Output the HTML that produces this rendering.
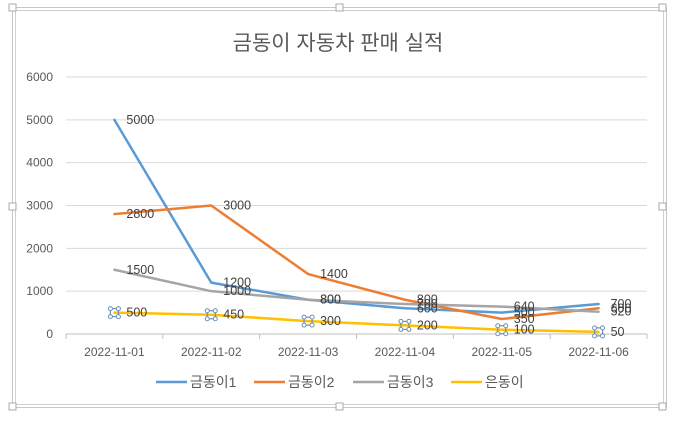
<!DOCTYPE html>
<html><head><meta charset="utf-8">
<style>
body{margin:0;background:#fff;}
svg{display:block;font-family:"Liberation Sans","Noto Sans CJK KR",sans-serif;}
</style></head>
<body>
<svg id="chart" width="675" height="426" viewBox="0 0 675 426">
<g>
<rect x="12.5" y="7.5" width="654" height="400" fill="none" stroke="#c8c8c8"/>
<rect x="15.5" y="10.5" width="648" height="394" fill="none" stroke="#d0d0d0"/>
<rect x="9" y="4" width="7" height="7" fill="#fff" stroke="#aaa"/>
<rect x="336" y="4" width="7" height="7" fill="#fff" stroke="#aaa"/>
<rect x="659" y="4" width="7" height="7" fill="#fff" stroke="#aaa"/>
<rect x="9" y="203" width="7" height="7" fill="#fff" stroke="#aaa"/>
<rect x="659" y="203" width="7" height="7" fill="#fff" stroke="#aaa"/>
<rect x="9" y="403" width="7" height="7" fill="#fff" stroke="#aaa"/>
<rect x="336" y="403" width="7" height="7" fill="#fff" stroke="#aaa"/>
<rect x="659" y="403" width="7" height="7" fill="#fff" stroke="#aaa"/>
</g>
<text x="338" y="50" text-anchor="middle" font-size="21" fill="#595959">금동이 자동차 판매 실적</text>
<g id="grid"></g><g id="axes"></g><g id="series"></g><g id="labels"></g>
<g id="legend"></g>
</svg>
<script>
const categories=["2022-11-01","2022-11-02","2022-11-03","2022-11-04","2022-11-05","2022-11-06"];
const yTicks=[0,1000,2000,3000,4000,5000,6000];
const seriesNames=["금동이1","금동이2","금동이3","은동이"];
const s1=[5000,1200,800,600,500,700];
const s2=[2800,3000,1400,800,350,600];
const s3=[1500,1000,800,700,640,520];
const s4=[500,450,300,200,100,50];
const colors=["#5b9bd5","#ed7d31","#a5a5a5","#ffc000"];
const NS="http://www.w3.org/2000/svg";
const x0=66,x1=647,y0=334,y1=77;
const bw=(x1-x0)/categories.length;
const X=i=>x0+bw*(i+0.5);
const Y=v=>y0-(v/6000)*(y0-y1);
function mk(t,a,p){const e=document.createElementNS(NS,t);for(const k in a)e.setAttribute(k,a[k]);p.appendChild(e);return e;}
const grid=document.getElementById('grid'),axes=document.getElementById('axes');
yTicks.forEach(v=>{
 const l=mk('line',{x1:x0,x2:x1,y1:Y(v),y2:Y(v),stroke:v===0?'#bfbfbf':'#d9d9d9','stroke-width':1},grid);
 
 
 const t=mk('text',{x:53,y:Y(v)+4,'text-anchor':'end','font-size':12,fill:'#595959'},axes);
 t.textContent=v;
 
 
});
categories.forEach((c,i)=>{
 const tk=mk('line',{x1:x0+bw*i,x2:x0+bw*i,y1:y0,y2:y0+5,stroke:'#bfbfbf'},axes);
 
 
 const t=mk('text',{x:X(i),y:356,'text-anchor':'middle','font-size':12,fill:'#595959'},axes);
 t.textContent=c;
 
 
});
mk('line',{x1:x1,x2:x1,y1:y0,y2:y0+5,stroke:'#bfbfbf'},axes);
const all=[s1,s2,s3,s4];
const sg=document.getElementById('series'),lg=document.getElementById('labels');
all.forEach((s,k)=>{
 const p=mk('polyline',{points:s.map((v,i)=>X(i)+','+Y(v)).join(' '),fill:'none',stroke:colors[k],'stroke-width':2.5,'stroke-linejoin':'round','stroke-linecap':'round'},sg);
 
 
 s.forEach((v,i)=>{
  if(k===3){
   const g=mk('g',{},lg);
   
   
   const cx=X(i),cy=Y(v);
   mk('rect',{x:cx-4,y:cy-4,width:8,height:8,fill:'none',stroke:'#6a8fb5','stroke-width':1.2},g);
   [[-4,-4],[4,-4],[-4,4],[4,4]].forEach(d=>mk('circle',{cx:cx+d[0],cy:cy+d[1],r:2,fill:'#fff',stroke:'#6a8fb5','stroke-width':1},g));
  }
  const t=mk('text',{x:X(i)+12,y:Y(v)+4,'font-size':12.5,fill:'#404040'},lg);
  t.textContent=v;
  
  
 });
});
const leg=document.getElementById('legend');
const lx=[156,254,353,451];
seriesNames.forEach((n,k)=>{
 const g=mk('g',{},leg);
 
 
 mk('line',{x1:lx[k],x2:lx[k]+31,y1:382,y2:382,stroke:colors[k],'stroke-width':2.5},g);
 const t=mk('text',{x:lx[k]+34,y:387,'font-size':14,fill:'#595959'},g);
 t.textContent=n;
});
</script>
</body></html>
